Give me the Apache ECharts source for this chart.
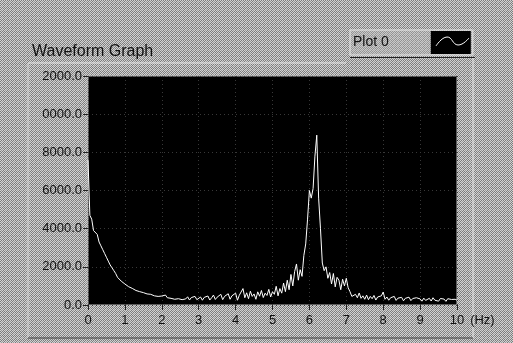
<!DOCTYPE html>
<html>
<head>
<meta charset="utf-8">
<script src="https://cdn.jsdelivr.net/npm/echarts@6/dist/echarts.min.js"></script>
<style>
  html, body { margin: 0; padding: 0; }
  #chart { width: 513px; height: 343px; }
</style>
</head>
<body>
<div id="chart"></div>
<script>
// amplitude spectrum, one value every 0.05 Hz from 0 to 10 Hz
const step = 0.05;
const amplitude = [
  7600, 4700, 4500, 3900, 3800, 3700, 3300, 3100, 2900, 2700,
  2500, 2300, 2100, 1950, 1800, 1650, 1450, 1350, 1250, 1180,
  1100, 1000, 960, 900, 870, 820, 760, 800, 700, 720,
  650, 700, 580, 640, 560, 620, 480, 560, 450, 520,
  470, 400, 520, 380, 460, 350, 430, 300, 400, 330,
  420, 280, 380, 320, 430, 260, 390, 310, 450, 280,
  360, 420, 250, 400, 300, 470, 260, 380, 520, 290,
  410, 330, 560, 280, 450, 350, 590, 300, 480, 380,
  620, 250, 510, 430, 860, 380, 640, 330, 720, 450,
  580, 300, 690, 460, 760, 390, 620, 500, 820, 420,
  700, 560, 980, 480, 860, 620, 1150, 700, 1300, 800,
  1600, 1000, 1750, 2150, 1300, 1850, 1500, 2600, 3200, 4500,
  6000, 5600, 6100, 7800, 8900, 5600, 4000, 2200, 1800, 2000,
  1400, 1700, 1100, 1650, 950, 1450, 1300, 800, 1350, 1000,
  1400, 900, 700, 450, 420, 560, 380, 630, 350, 480,
  300, 520, 280, 450, 330, 500, 260, 420, 320, 480,
  680, 300, 420, 250, 380, 300, 450, 240, 360, 280,
  400, 220, 350, 260, 410, 230, 340, 250, 380, 280,
  320, 200, 360, 240, 300, 350, 210, 380, 250, 330,
  200, 340, 240, 310, 190, 330, 230, 290, 200, 300,
  250
];
const xTicks = [0, 1, 2, 3, 4, 5, 6, 7, 8, 9, 10];
const yTicks = [0, 2000, 4000, 6000, 8000, 10000, 12000];

const points = amplitude.map((v, i) => [+(i * step).toFixed(2), v]);

// dithered grey panel, like the old screen grab
function ditherPattern() {
  const c = document.createElement('canvas');
  c.width = 4; c.height = 4;
  const ctx = c.getContext('2d');
  for (let y = 0; y < 4; y++) {
    for (let x = 0; x < 4; x++) {
      ctx.fillStyle = (x + y) % 2 === 0 ? '#d2d2d2' : ((x * y) % 3 === 0 ? '#7c7c7c' : '#9a9a9a');
      ctx.fillRect(x, y, 1, 1);
    }
  }
  return c;
}

const font = 'Liberation Sans';
const chart = echarts.init(document.getElementById('chart'));
chart.setOption({
  animation: false,
  backgroundColor: { image: ditherPattern(), repeat: 'repeat' },
  title: {
    text: 'Waveform Graph',
    left: 27,
    top: 39,
    textStyle: { fontFamily: font, fontSize: 16, fontWeight: 'normal', color: '#111' }
  },
  legend: {
    data: ['Plot 0'],
    left: 350,
    top: 30,
    align: 'right',
    icon: 'rect',
    itemWidth: 40,
    itemHeight: 23,
    padding: [1, 2, 1, 3],
    borderColor: '#e6e6e6',
    borderWidth: 1,
    backgroundColor: 'rgba(190,190,190,0.35)',
    itemStyle: { color: '#000' },
    textStyle: { fontFamily: font, fontSize: 14, color: '#111', padding: [0, 37, 0, 0] }
  },
  grid: {
    left: 88,
    right: 56,
    top: 76,
    bottom: 38,
    show: true,
    backgroundColor: '#000',
    borderColor: '#b8b8b8',
    borderWidth: 1
  },
  xAxis: {
    type: 'value',
    min: xTicks[0],
    max: xTicks[xTicks.length - 1],
    interval: 1,
    name: '(Hz)',
    nameLocation: 'end',
    nameGap: 10,
    nameTextStyle: { fontFamily: font, fontSize: 13, color: '#111', verticalAlign: 'top', padding: [9, 0, 0, 0] },
    axisLine: { show: false },
    axisTick: { show: true, length: 5, lineStyle: { color: '#222' } },
    axisLabel: { margin: 9, fontFamily: font, fontSize: 13, color: '#111' },
    splitLine: { show: true, lineStyle: { color: '#383838', type: [1, 3], width: 1 } }
  },
  yAxis: {
    type: 'value',
    min: yTicks[0],
    max: yTicks[yTicks.length - 1],
    interval: 2000,
    axisLine: { show: false },
    axisTick: { show: true, length: 5, lineStyle: { color: '#222' } },
    axisLabel: {
      margin: 6,
      fontFamily: font,
      fontSize: 13,
      color: '#111',
      // the panel frame clips the leading digit of the widest labels
      formatter: v => v.toFixed(1).slice(-6)
    },
    splitLine: { show: true, lineStyle: { color: '#383838', type: [1, 3], width: 1 } }
  },
  series: [{
    name: 'Plot 0',
    type: 'line',
    data: points,
    showSymbol: false,
    color: '#fff',
    lineStyle: { color: '#fff', width: 1 }
  }],
  graphic: [
    { type: 'line', shape: { x1: 28, y1: 63, x2: 346, y2: 63 }, style: { stroke: '#e8e8e8', lineWidth: 1 } },
    { type: 'line', shape: { x1: 473, y1: 58, x2: 473, y2: 338 }, style: { stroke: '#e8e8e8', lineWidth: 1 } },
    { type: 'line', shape: { x1: 28, y1: 63, x2: 28, y2: 338 }, style: { stroke: '#dcdcdc', lineWidth: 1 } },
    { type: 'line', shape: { x1: 28, y1: 338, x2: 473, y2: 338 }, style: { stroke: '#3a3a3a', lineWidth: 1 } },
    { type: 'line', shape: { x1: 350, y1: 57.5, x2: 475, y2: 57.5 }, style: { stroke: '#222', lineWidth: 1 } },
    {
      type: 'polyline',
      z: 100,
      shape: { points: [[436, 46], [447, 37], [458, 45], [469, 38]], smooth: 0.5 },
      style: { stroke: '#fff', lineWidth: 1, fill: null }
    }
  ]
});
</script>
</body>
</html>
